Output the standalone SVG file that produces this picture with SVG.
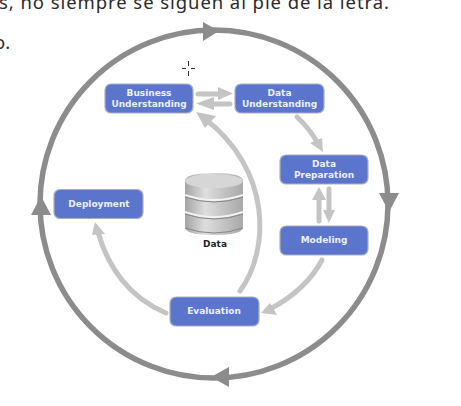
<svg xmlns="http://www.w3.org/2000/svg" width="461" height="406" viewBox="0 0 461 406">
<style>
.n{fill:#5b75cd;stroke:#a9afc4;stroke-width:1.2}
.t{font:bold 9px "DejaVu Sans",sans-serif;fill:#eef1fb;text-anchor:middle}
.o{fill:none;stroke:#8c8c8c;stroke-width:5.5}
.oh{fill:#8c8c8c}
.c{fill:none;stroke:#c4c4c4;stroke-width:5;stroke-linecap:round}
.ch{fill:#c4c4c4}
.p{font:18.5px "Noto Sans","Liberation Sans",sans-serif;fill:#2b2b2b}
</style>
<defs><linearGradient id="g" x1="0" x2="1" y1="0" y2="0"><stop offset="0" stop-color="#a4a4a4"/><stop offset=".35" stop-color="#dedede"/><stop offset="1" stop-color="#a8a8a8"/></linearGradient></defs>
<rect width="461" height="406" fill="#fff"/>
<text class="p" x="-1" y="9" textLength="390">s, no siempre se siguen al pie de la letra.</text>
<text class="p" x="-6" y="49">o.</text>
<g id="cursor" stroke="#333" stroke-width="1"><path d="M182 68.500h4M191 68.500h4M188.500 61v5M188.500 71v5"/></g>
<g id="connectors">
<circle class="o" cx="214" cy="204" r="174"/>
<path class="oh" d="M203 22L219 31L203 41z"/>
<path class="oh" d="M379 193H399L389 212z"/>
<path class="oh" d="M229 367V387L211 377z"/>
<path class="oh" d="M31 215H51L41 196z"/>
<path class="c" d="M198 94H222"/><path class="ch" d="M218 87L233 93.500L218 100z"/>
<path class="c" d="M230 104H208"/><path class="ch" d="M214 97L196 103.500L214 110z"/>
<path class="c" d="M297 117Q308 127 316 140"/><path class="ch" d="M310 143L322 138L323 152z"/>
<path class="c" d="M329 189V214"/><path class="ch" d="M323 210H335L329 223z"/>
<path class="c" d="M319 221V196"/><path class="ch" d="M312 200H326L319 187z"/>
<path class="c" d="M322 260Q306 290 270 309"/><path class="ch" d="M261 313L270 303L277 315z"/>
<path class="c" d="M240 291C270 250 272 170 204 118"/><path class="ch" d="M196 112L216 116L205 128z"/>
<path class="c" d="M166 313C130 298 108 268 98 232"/><path class="ch" d="M95 222L105 234L92 235z"/>
</g>
<g id="business"><rect class="n" x="105" y="84" width="88" height="29" rx="6"/><text class="t" x="149" y="96">Business</text><text class="t" x="149" y="107">Understanding</text></g>
<g id="data-understanding"><rect class="n" x="235" y="84" width="89" height="29" rx="6"/><text class="t" x="279.500" y="96">Data</text><text class="t" x="279.500" y="107">Understanding</text></g>
<g id="data-preparation"><rect class="n" x="280" y="155" width="88" height="29" rx="6"/><text class="t" x="324" y="167">Data</text><text class="t" x="324" y="178">Preparation</text></g>
<g id="modeling"><rect class="n" x="280" y="226" width="88" height="29" rx="6"/><text class="t" x="324" y="243">Modeling</text></g>
<g id="deployment"><rect class="n" x="54" y="189.500" width="89" height="29" rx="6"/><text class="t" x="99" y="207">Deployment</text></g>
<g id="evaluation"><rect class="n" x="170" y="297" width="89" height="29" rx="6"/><text class="t" x="214" y="314">Evaluation</text></g>
<g id="data">
<path d="M185 181Q185 173 214 173Q243 173 243 181V227Q243 235 214 235Q185 235 185 227z" fill="url(#g)"/>
<ellipse cx="214" cy="181" rx="29" ry="7" fill="#d6d6d6"/>
<path d="M185 195Q214 205 243 195M185 212Q214 222 243 212" fill="none" stroke="#f2f2f2" stroke-width="2"/>
<path d="M185 197Q214 207 243 197M185 214Q214 224 243 214M185 228Q214 238 243 228" fill="none" stroke="#858585" stroke-width="1"/>
<text x="215" y="247" style="font:bold 9px 'DejaVu Sans',sans-serif" fill="#222" text-anchor="middle">Data</text>
</g>
</svg>
